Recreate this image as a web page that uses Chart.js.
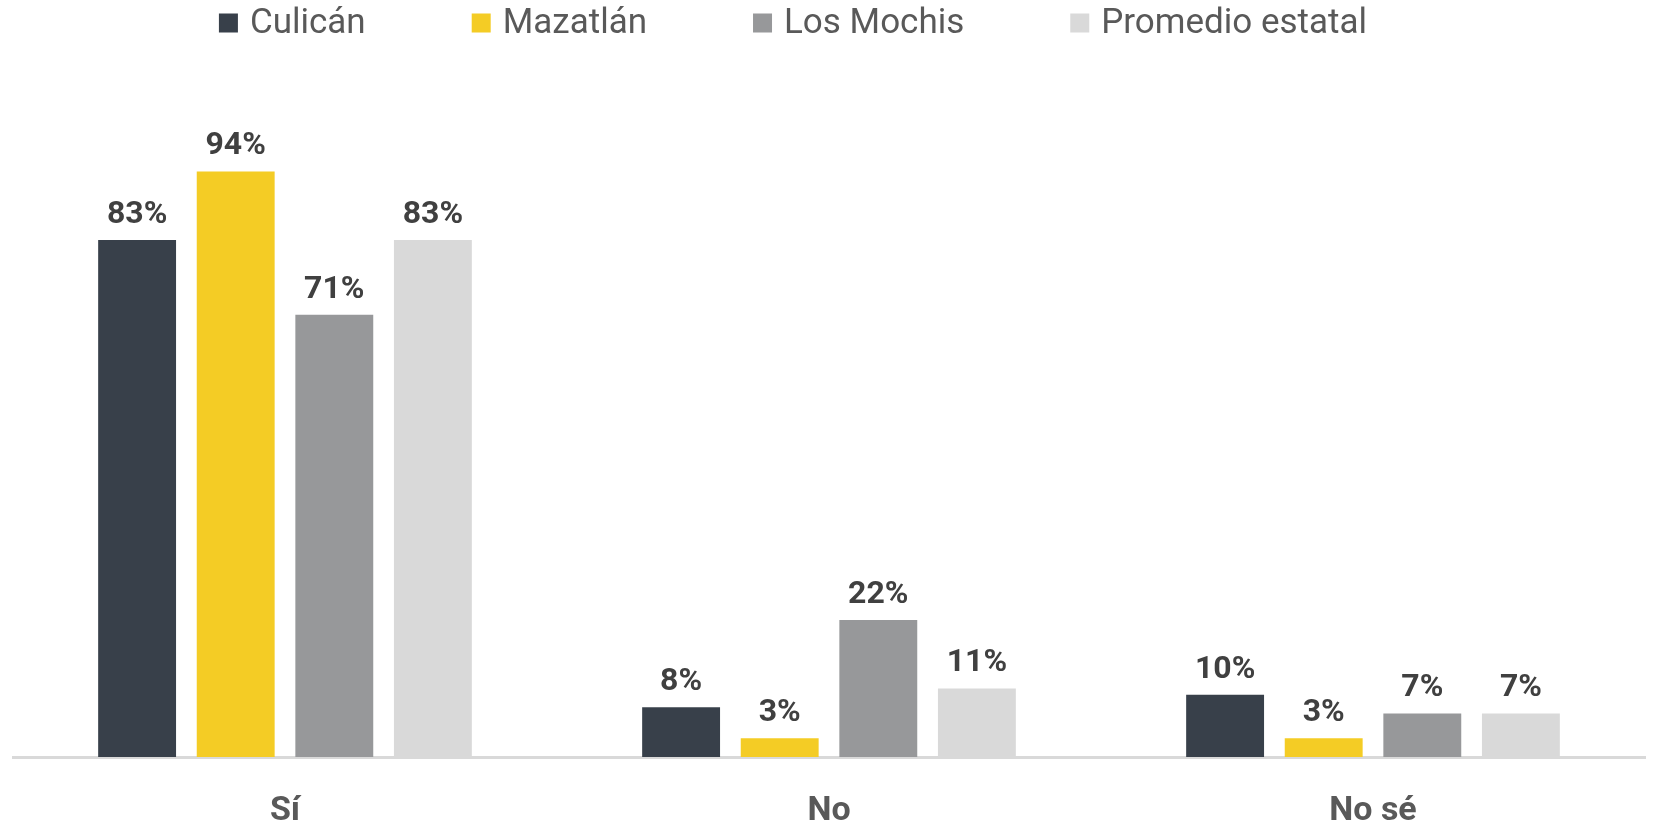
<!DOCTYPE html>
<html>
<head>
<meta charset="utf-8">
<script src="https://cdn.jsdelivr.net/npm/chart.js@4.4.1/dist/chart.umd.min.js"></script>
<style>
html,body{margin:0;padding:0;background:#fff;}
#wrap{width:1653px;height:826px;position:relative;}
</style>
</head>
<body>
<div id="wrap"><canvas id="c" width="1653" height="826"></canvas></div>
<script>
const categories = ["Sí", "No", "No sé"];
const seriesNames = ["Culicán", "Mazatlán", "Los Mochis", "Promedio estatal"];
const culiacan = [83, 8, 10];
const mazatlan = [94, 3, 3];
const losMochis = [71, 22, 7];
const promedio = [83, 11, 7];
const colors = ["#38404A", "#F4CC25", "#97989A", "#D9D9D9"];

const FONT = "Roboto, 'Liberation Sans', sans-serif";

const valueLabels = {
  id: 'valueLabels',
  afterDatasetsDraw(chart) {
    const ctx = chart.ctx;
    ctx.save();
    ctx.font = "bold 32px " + FONT;
    ctx.fillStyle = "#404040";
    ctx.textAlign = "center";
    ctx.textBaseline = "alphabetic";
    chart.data.datasets.forEach((ds, i) => {
      chart.getDatasetMeta(i).data.forEach((bar, j) => {
        ctx.fillText(ds.data[j] + "%", bar.x, bar.y - 17);
      });
    });
    ctx.restore();
  }
};

const customLegend = {
  id: 'customLegend',
  afterDraw(chart) {
    const ctx = chart.ctx;
    ctx.save();
    ctx.font = "400 35px " + FONT;
    const box = 19, gap = 12, itemGap = 106;
    const widths = seriesNames.map(n => ctx.measureText(n).width);
    let total = widths.reduce((a, w) => a + box + gap + w, 0) + itemGap * (seriesNames.length - 1);
    let x = 793 - total / 2;
    const cy = 23;
    ctx.textBaseline = "middle";
    ctx.textAlign = "left";
    seriesNames.forEach((n, i) => {
      ctx.fillStyle = colors[i];
      ctx.fillRect(x, cy - box / 2, box, box);
      ctx.fillStyle = "#595959";
      ctx.fillText(n, x + box + gap, cy + 1);
      x += box + gap + widths[i] + itemGap;
    });
    ctx.restore();
  }
};

new Chart(document.getElementById('c'), {
  type: 'bar',
  data: {
    labels: categories,
    datasets: [
      { label: seriesNames[0], data: culiacan, backgroundColor: colors[0] },
      { label: seriesNames[1], data: mazatlan, backgroundColor: colors[1] },
      { label: seriesNames[2], data: losMochis, backgroundColor: colors[2] },
      { label: seriesNames[3], data: promedio, backgroundColor: colors[3] }
    ]
  },
  options: {
    responsive: false,
    animation: false,
    devicePixelRatio: 1,
    layout: { padding: { top: 134, left: 13, right: 8, bottom: 0 } },
    datasets: { bar: { barPercentage: 0.79, categoryPercentage: 0.725 } },
    plugins: { legend: { display: false }, tooltip: { enabled: false } },
    scales: {
      x: {
        grid: { display: false, drawTicks: false },
        border: { display: true, color: "#D9D9D9", width: 3 },
        ticks: { color: "#595959", font: { family: FONT, size: 34, weight: 'bold' }, padding: 34 },
        afterFit(scale) { scale.height = 69; }
      },
      y: {
        display: false,
        min: 0, max: 100
      }
    }
  },
  plugins: [valueLabels, customLegend]
});
</script>
</body>
</html>
